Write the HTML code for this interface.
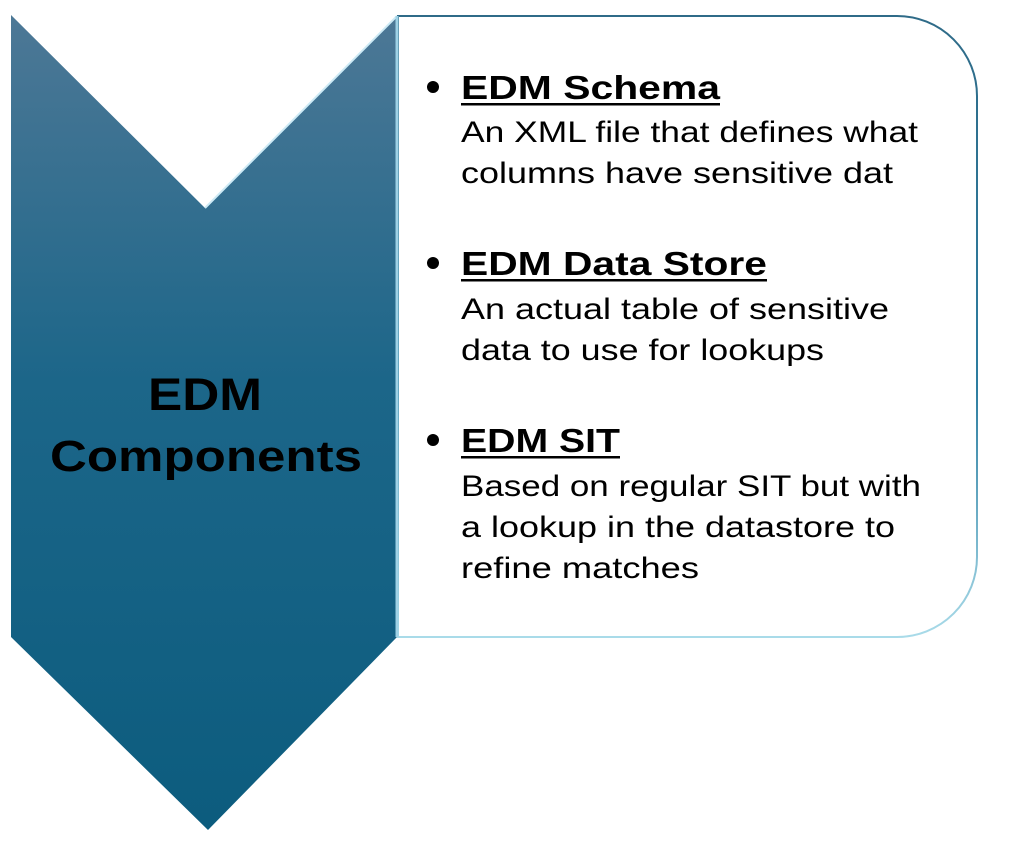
<!DOCTYPE html>
<html><head><meta charset="utf-8"><style>
html,body{margin:0;padding:0;background:#fff;}
svg{display:block;}
text{font-family:"Liberation Sans",sans-serif;}
</style></head><body>
<svg width="1024" height="849" viewBox="0 0 1024 849" xmlns="http://www.w3.org/2000/svg">
<defs>
<linearGradient id="g" x1="0" y1="0" x2="0" y2="1">
<stop offset="0" stop-color="#4d7896"/>
<stop offset="0.45" stop-color="#1c6689"/>
<stop offset="1" stop-color="#0c5c7e"/>
</linearGradient>
<linearGradient id="b" x1="0" y1="0" x2="0" y2="1">
<stop offset="0" stop-color="#2f6b88"/>
<stop offset="0.6" stop-color="#2d7da0"/>
<stop offset="1" stop-color="#a9dbe9"/>
</linearGradient>
</defs>
<path d="M398,16 H897 A80,80 0 0 1 977,96 V557 A80,80 0 0 1 897,637 H398 Z" fill="#fff" stroke="url(#b)" stroke-width="2"/>
<path d="M11,15 L205,208 L397,16 V637 L208,830 L11,637 Z" fill="url(#g)"/>
<path d="M205,208 L397,16" stroke="#cdeaf5" stroke-width="2" fill="none"/>
<line x1="397" y1="16" x2="397" y2="637" stroke="#9fd2e6" stroke-width="3"/>
<text x="148" y="410" font-size="45" font-weight="bold" fill="#000" textLength="114" lengthAdjust="spacingAndGlyphs">EDM</text>
<text x="206" y="471" font-size="44" font-weight="bold" text-anchor="middle" fill="#000" textLength="312" lengthAdjust="spacingAndGlyphs">Components</text>
<g fill="#000">
<circle cx="433" cy="87" r="6"/>
<text x="461" y="99" font-size="33" font-weight="bold" textLength="259" lengthAdjust="spacingAndGlyphs">EDM Schema</text>
<rect x="461" y="103" width="259" height="2.5"/>
<text x="461" y="142" font-size="30" textLength="457" lengthAdjust="spacingAndGlyphs">An XML file that defines what</text>
<text x="461" y="183" font-size="30" textLength="432" lengthAdjust="spacingAndGlyphs">columns have sensitive dat</text>
<circle cx="433" cy="263" r="6"/>
<text x="461" y="275" font-size="33" font-weight="bold" textLength="306" lengthAdjust="spacingAndGlyphs">EDM Data Store</text>
<rect x="461" y="279" width="306" height="2.5"/>
<text x="461" y="319" font-size="30" textLength="428" lengthAdjust="spacingAndGlyphs">An actual table of sensitive</text>
<text x="461" y="360" font-size="30" textLength="363" lengthAdjust="spacingAndGlyphs">data to use for lookups</text>
<circle cx="433" cy="440" r="6"/>
<text x="461" y="452" font-size="33" font-weight="bold" textLength="159" lengthAdjust="spacingAndGlyphs">EDM SIT</text>
<rect x="461" y="456" width="159" height="2.5"/>
<text x="461" y="496" font-size="30" textLength="460" lengthAdjust="spacingAndGlyphs">Based on regular SIT but with</text>
<text x="461" y="537" font-size="30" textLength="434" lengthAdjust="spacingAndGlyphs">a lookup in the datastore to</text>
<text x="461" y="578" font-size="30" textLength="238" lengthAdjust="spacingAndGlyphs">refine matches</text>
</g>
</svg>
</body></html>
